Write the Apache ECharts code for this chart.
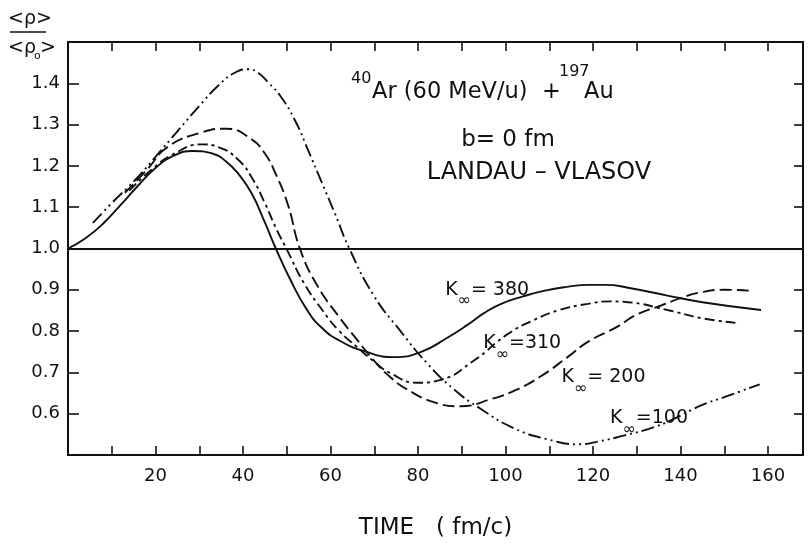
<!DOCTYPE html>
<html>
<head>
<meta charset="utf-8">
<script src="https://cdn.jsdelivr.net/npm/echarts@6/dist/echarts.min.js"></script>
<style>
  html, body { margin: 0; padding: 0; background: #fff; }
  #chart { width: 811px; height: 545px; }
</style>
</head>
<body>
<div id="chart"></div>
<script>
// Mean density ratio <rho>/<rho0> versus time (fm/c), Landau-Vlasov,
// 40Ar (60 MeV/u) + 197Au at b = 0 fm, for four incompressibilities K_inf.
const k380 = [
  [0, 1.0], [4, 1.025], [8, 1.06], [12, 1.105], [16, 1.152], [20, 1.195], [24, 1.224],
  [28.5, 1.236], [33, 1.230], [36, 1.212], [39, 1.180], [42, 1.133], [45, 1.063],
  [47.5, 1.0], [50.8, 0.925], [54.6, 0.852], [58, 0.808], [62.2, 0.776], [68.4, 0.749],
  [74.5, 0.737], [80.6, 0.749], [86.7, 0.784], [91.3, 0.815], [95, 0.843], [99, 0.866],
  [104, 0.884], [109, 0.898], [114, 0.907], [119, 0.912], [123, 0.912],
  [128, 0.905], [137, 0.886], [145, 0.870], [158.4, 0.851]
];
const k310 = [
  [14, 1.14], [19, 1.19], [24, 1.228], [30.5, 1.252], [34.5, 1.245], [38.9, 1.215],
  [42, 1.172], [45, 1.11], [47.5, 1.05], [49.9, 1.0], [54, 0.915], [58.4, 0.847], [62, 0.80],
  [66.1, 0.761], [70, 0.726], [73.7, 0.698], [79.8, 0.675], [85.2, 0.682], [92.8, 0.729],
  [100.4, 0.792], [106.5, 0.827], [112, 0.850], [118.8, 0.866], [124, 0.872],
  [128, 0.870], [137, 0.851], [145, 0.831], [153.5, 0.819]
];
const k200 = [
  [13, 1.135], [18, 1.19], [22.8, 1.246], [30.5, 1.281], [36.2, 1.29], [41.9, 1.265],
  [45, 1.23], [47.5, 1.18], [50.3, 1.105], [53, 1.0], [57, 0.91], [62.2, 0.831], [66, 0.78],
  [69.9, 0.729], [73.5, 0.69], [77.5, 0.659], [83.6, 0.628], [89.7, 0.618], [96.6, 0.635],
  [102.7, 0.659], [108, 0.69], [114.2, 0.737], [119, 0.775], [125.6, 0.811],
  [130, 0.84], [135.6, 0.862], [140, 0.88], [144.7, 0.894], [150, 0.90], [155.8, 0.898]
];
const k100 = [
  [5.7, 1.062], [10, 1.11], [15.2, 1.164], [20, 1.222], [25.1, 1.285], [30, 1.345],
  [34.3, 1.394], [38, 1.425], [41.2, 1.434], [43.5, 1.425], [45.75, 1.402],
  [48.5, 1.37], [51.9, 1.31], [55, 1.235], [58, 1.16], [61, 1.085], [64.3, 1.0],
  [69.9, 0.886], [76, 0.80], [82.1, 0.722], [88.2, 0.659], [94.3, 0.612],
  [101.9, 0.565], [109.6, 0.538], [116.5, 0.526], [121.8, 0.534], [127, 0.547],
  [133.3, 0.565], [138, 0.585], [144.7, 0.62], [150, 0.64], [158.1, 0.671]
];
const referenceLevel = 1.0;
const xTickLabels = [20, 40, 60, 80, 100, 120, 140, 160];
const yTickLabels = ['0.6', '0.7', '0.8', '0.9', '1.0', '1.1', '1.2', '1.3', '1.4'];
const kValues = ['380', '310', '200', '100'];

const FONT = 'DejaVu Sans';
const INK = '#111';

// where each K label sits, in data units (time, ratio)
const labelAnchors = [[86.2, 0.888], [94.9, 0.758], [112.8, 0.676], [123.9, 0.577]];

const dashes = {
  solid: 'solid',
  dashDot: [10, 4, 3, 4],
  dash: [12, 5],
  dashDotDot: [13, 4, 2, 4, 2, 4]
};

function curve(name, data, dash) {
  return {
    name, type: 'line', data, smooth: 0.5, showSymbol: false, silent: true,
    lineStyle: { color: INK, width: 1.9, type: dash }
  };
}

const chart = echarts.init(document.getElementById('chart'), null, { renderer: 'canvas' });

const axisLine = { show: true, onZero: false, lineStyle: { color: INK, width: 2 } };
const tick = (len) => ({ show: true, inside: true, length: len, lineStyle: { color: INK, width: 1.6 } });
const txt = (px) => px + 'px "DejaVu Sans"';

chart.setOption({
  animation: false,
  backgroundColor: '#fff',
  grid: { left: 68, right: 8, top: 42, bottom: 77 },
  xAxis: [
    {
      type: 'value', min: 0, max: 168, interval: 10, position: 'bottom',
      axisLine, axisTick: tick(9), splitLine: { show: false },
      axisLabel: {
        margin: 12, color: INK, fontFamily: FONT, fontSize: 18,
        formatter: (v) => xTickLabels.includes(Math.round(v)) && Math.abs(v - Math.round(v)) < 1e-6 ? String(Math.round(v)) : ''
      },
      name: 'TIME   ( fm/c)', nameLocation: 'middle', nameGap: 62,
      nameTextStyle: { color: INK, fontFamily: FONT, fontSize: 23 }
    },
    {
      type: 'value', min: 0, max: 168, interval: 10, position: 'top',
      axisLine, axisTick: tick(9), axisLabel: { show: false }, splitLine: { show: false }
    }
  ],
  yAxis: [
    {
      type: 'value', min: 0.5, max: 1.5, interval: 0.1, position: 'left',
      axisLine, axisTick: tick(11), splitLine: { show: false },
      axisLabel: {
        margin: 8, color: INK, fontFamily: FONT, fontSize: 18,
        formatter: (v) => { const s = v.toFixed(1); return yTickLabels.includes(s) ? s : ''; }
      }
    },
    {
      type: 'value', min: 0.5, max: 1.5, interval: 0.1, position: 'right',
      axisLine, axisTick: tick(9), axisLabel: { show: false }, splitLine: { show: false }
    }
  ],
  series: [
    Object.assign(curve('K=380', k380, dashes.solid), {
      markLine: {
        silent: true, symbol: 'none', label: { show: false },
        lineStyle: { color: INK, width: 2, type: 'solid' },
        data: [{ yAxis: referenceLevel }]
      }
    }),
    curve('K=310', k310, dashes.dashDot),
    curve('K=200', k200, dashes.dash),
    curve('K=100', k100, dashes.dashDotDot),
    {
      name: 'labels', type: 'scatter', symbolSize: 0, silent: true,
      itemStyle: { opacity: 1, color: INK },
      data: labelAnchors.map((p) => ({ value: p })),
      label: {
        show: true, position: 'right', distance: 0, color: INK, opacity: 1,
        formatter: (p) => '{k|K}{inf|\u221e}{eq|=' + (p.dataIndex === 1 || p.dataIndex === 3 ? '' : ' ') + kValues[p.dataIndex] + '}',
        rich: {
          k: { fontFamily: FONT, fontSize: 19, color: INK, lineHeight: 22, verticalAlign: 'top' },
          inf: { fontFamily: FONT, fontSize: 16, color: INK, lineHeight: 29, verticalAlign: 'bottom' },
          eq: { fontFamily: FONT, fontSize: 19, color: INK, lineHeight: 22, verticalAlign: 'top' }
        }
      }
    }
  ],
  graphic: [
    // y-axis quantity: <rho> / <rho0>
    { type: 'text', x: 8, y: 19, style: { text: '<\u03c1>', font: txt(19), fill: INK, verticalAlign: 'middle' } },
    { type: 'line', shape: { x1: 10, y1: 32, x2: 46, y2: 32 }, style: { stroke: INK, lineWidth: 1.6 } },
    { type: 'text', x: 8, y: 48, style: { text: '<\u03c1', font: txt(19), fill: INK, verticalAlign: 'middle' } },
    { type: 'text', x: 34, y: 56, style: { text: 'o', font: txt(11), fill: INK, verticalAlign: 'middle' } },
    { type: 'text', x: 40, y: 48, style: { text: '>', font: txt(19), fill: INK, verticalAlign: 'middle' } },
    // reaction, impact parameter and model
    { type: 'text', x: 351, y: 79, style: { text: '40', font: txt(16), fill: INK, verticalAlign: 'middle' } },
    { type: 'text', x: 372, y: 92, style: { text: 'Ar (60 MeV/u)  +', font: txt(22.5), fill: INK, verticalAlign: 'middle' } },
    { type: 'text', x: 559, y: 72, style: { text: '197', font: txt(16), fill: INK, verticalAlign: 'middle' } },
    { type: 'text', x: 584, y: 92, style: { text: 'Au', font: txt(22.5), fill: INK, verticalAlign: 'middle' } },
    { type: 'text', x: 508, y: 140, style: { text: 'b= 0 fm', font: txt(23), fill: INK, align: 'center', verticalAlign: 'middle' } },
    { type: 'text', x: 539, y: 173, style: { text: 'LANDAU \u2013 VLASOV', font: txt(24), fill: INK, align: 'center', verticalAlign: 'middle' } }
  ]
});
</script>
</body>
</html>
